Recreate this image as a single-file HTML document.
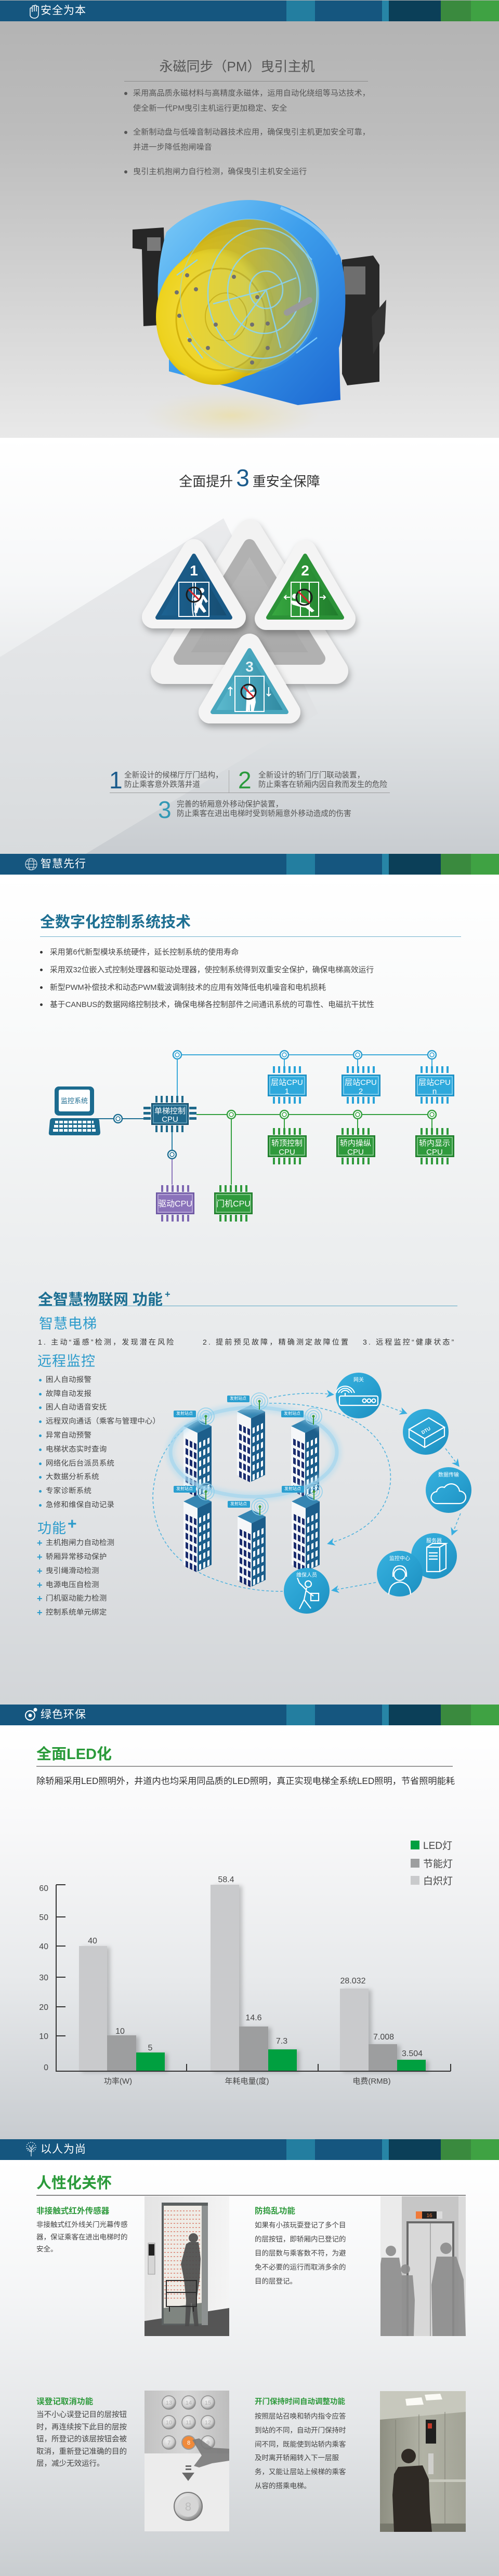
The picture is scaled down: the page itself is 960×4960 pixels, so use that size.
<!DOCTYPE html>
<html lang="zh"><head><meta charset="utf-8"><title>电梯产品介绍</title>
<style>
*{margin:0;padding:0;box-sizing:border-box}
html,body{width:960px;height:4960px}
body{position:relative;overflow:hidden;background:#fff;font-family:"Liberation Sans","Noto Sans CJK SC",sans-serif;color:#444}
.a{position:absolute}
.t{position:absolute;white-space:nowrap}
.bar{position:absolute;left:0;width:960px;height:40px;background:#15567f;overflow:hidden}
.bar i{position:absolute;top:0;height:40px;display:block}
.bar .bt{position:absolute;left:78px;top:0;line-height:40px;font-size:21px;color:#fff;letter-spacing:1px}
.bar svg{position:absolute;left:44px;top:6px}
.dot{position:absolute;width:6px;height:6px;border-radius:50%;background:#555}
.bd{position:absolute;width:5px;height:5px;border-radius:50%;background:#2b9bcb}
.li{position:absolute;white-space:nowrap;font-size:14.4px;line-height:20px;color:#444;letter-spacing:.3px}
.pl{position:absolute;left:71px;font-size:18px;line-height:20px;color:#2b9bcb;font-weight:700}
.gh{position:absolute;white-space:nowrap;font-size:15.6px;line-height:22px;color:#2e9a3c;font-weight:700}
.gp{position:absolute;white-space:nowrap;font-size:13.5px;color:#444}
</style></head><body>

<!-- ============ backgrounds ============ -->
<div class="a" style="left:0;top:0;width:960px;height:843px;background:linear-gradient(#b2b2b2 0%,#bcbcbc 30%,#cfcfcf 60%,#dfdfdf 85%,#e9e9e9 100%)"></div>
<div class="a" style="left:0;top:843px;width:960px;height:801px;background:linear-gradient(#fff 0%,#f6f7f8 35%,#dfe2e4 70%,#c8ccd0 100%)"></div>
<div class="a" style="left:0;top:1684px;width:960px;height:1598px;background:linear-gradient(#fff 0%,#f8f9f9 20%,#eceeef 45%,#e2e4e6 75%,#d2d5d8 100%)"></div>
<div class="a" style="left:0;top:3321px;width:960px;height:798px;background:linear-gradient(#fff 0%,#f8f8f9 25%,#e7e9eb 62%,#c8ccd0 100%)"></div>
<div class="a" style="left:0;top:4159px;width:960px;height:801px;background:linear-gradient(#fff 0%,#f5f6f7 30%,#e4e6e8 65%,#c9cdd0 100%)"></div>

<!-- ============ BAR 1 ============ -->
<div class="bar" style="top:1px">
 <i style="left:551px;width:55px;background:#237ea0"></i>
 <i style="left:735px;width:13px;background:#2785a6"></i>
 <i style="left:748px;width:100px;background:#0b3f58"></i>
 <i style="left:848px;width:58px;background:#3a8a3e"></i>
 <i style="left:906px;width:54px;background:#3fa243"></i>
 <svg width="30" height="30" viewBox="0 0 30 30" style="left:50px;top:7px"><path d="M8,22 L8,9 Q8,7 10,7 Q12,7 12,9 L12,5 Q12,3 14,3 Q16,3 16,5 L16,4 Q16,2 18,2 Q20,2 20,4 L20,6 Q20,4 22,4 Q24,4 24,6 L24,19 Q24,26 17,27 Q10,27 8,22 Z M12,9 L12,15 M16,5 L16,14 M20,6 L20,14" fill="none" stroke="#fff" stroke-width="1.5"/></svg>
 <div class="bt">安全为本</div>
</div>

<!-- ============ SECTION 1 ============ -->
<div class="t" style="left:0;width:912px;text-align:center;top:111px;font-size:26px;line-height:34px;color:#555">永磁同步（PM）曳引主机</div>
<div class="a" style="left:239px;top:156px;width:469px;height:1px;background:#8a8a8a"></div>
<div class="dot" style="left:239px;top:177px"></div>
<div class="dot" style="left:239px;top:252px"></div>
<div class="dot" style="left:239px;top:328px"></div>
<div class="t" style="left:256px;top:166px;font-size:15px;line-height:28.5px;color:#555;letter-spacing:.2px">采用高品质永磁材料与高精度永磁体，运用自动化绕组等马达技术，<br>使全新一代PM曳引主机运行更加稳定、安全</div>
<div class="t" style="left:256px;top:241px;font-size:15px;line-height:28.5px;color:#555;letter-spacing:.2px">全新制动盘与低噪音制动器技术应用，确保曳引主机更加安全可靠，<br>并进一步降低抱闸噪音</div>
<div class="t" style="left:256px;top:317px;font-size:15px;line-height:28.5px;color:#555;letter-spacing:.2px">曳引主机抱闸力自行检测，确保曳引主机安全运行</div>

<svg class="a" style="left:240px;top:380px" width="520" height="465" viewBox="0 0 520 465">
<defs>
<radialGradient id="refl" cx="50%" cy="50%" r="50%"><stop offset="0" stop-color="#eadfae" stop-opacity=".9"/><stop offset="1" stop-color="#e6e0c8" stop-opacity="0"/></radialGradient>
<linearGradient id="mblu" x1="0" y1="0" x2="1" y2="1"><stop offset="0" stop-color="#7fcdf8"/><stop offset=".45" stop-color="#3d9eec"/><stop offset="1" stop-color="#1c68d2"/></linearGradient>
<radialGradient id="myel" cx="45%" cy="48%" r="55%"><stop offset="0" stop-color="#f6e04c"/><stop offset=".8" stop-color="#edd21e"/><stop offset="1" stop-color="#d2b108"/></radialGradient>
<linearGradient id="ovl" x1="0" y1="0" x2="1" y2="0"><stop offset="0" stop-color="#4aa8f0" stop-opacity="0"/><stop offset=".45" stop-color="#4aa8f0" stop-opacity=".15"/><stop offset="1" stop-color="#3a98ea" stop-opacity=".55"/></linearGradient>
</defs>
<ellipse cx="205" cy="420" rx="170" ry="48" fill="url(#refl)"/>
<path d="M15,62 L75,58 L80,245 L36,248 L33,100 L15,98 Z" fill="#262626"/>
<rect x="43" y="77" width="26" height="26" fill="#7a7a7a"/>
<path d="M418,120 L478,112 L490,130 L490,355 L428,362 L418,340 Z" fill="#292929"/>
<rect x="421" y="133" width="42" height="54" fill="#6e6e6e"/>
<polygon points="475,230 503,197 500,262 478,302" fill="#333"/>
<path d="M80,67 C120,25 200,0 255,6 C330,12 390,60 415,115 C428,160 428,240 412,290 L415,390 L333,400 L85,335 L85,300 C60,240 55,150 80,67 Z" fill="url(#mblu)"/>
<path d="M300,20 C350,40 390,70 410,110" stroke="#a8e0ff" stroke-width="6" fill="none" opacity=".6"/>
<ellipse cx="240" cy="187" rx="133" ry="145" fill="#d1ae0a"/>
<ellipse cx="224" cy="198" rx="128" ry="141" fill="#d6b40c"/>
<ellipse cx="208" cy="209" rx="124" ry="138" fill="#dab80e"/>
<ellipse cx="191" cy="219" rx="119" ry="134" fill="#dcba10"/>
<ellipse cx="175" cy="230" rx="115" ry="131" fill="url(#myel)"/>
<ellipse cx="185" cy="235" rx="86" ry="98" fill="#efd52c" stroke="#d4b30c" stroke-width="3"/>
<ellipse cx="195" cy="230" rx="40" ry="46" fill="none" stroke="#d4b30c" stroke-width="2"/>
<ellipse cx="240" cy="190" rx="136" ry="148" fill="url(#ovl)"/>
<g fill="none" stroke="#86d4ff" stroke-width="2.5" opacity=".85">
<ellipse cx="265" cy="185" rx="105" ry="125"/>
<ellipse cx="268" cy="180" rx="70" ry="82"/>
<ellipse cx="272" cy="178" rx="32" ry="36"/>
<ellipse cx="240" cy="187" rx="133" ry="145" stroke-width="2" opacity=".6"/>
<path d="M272,178 L330,155 M272,178 L210,265 M272,178 L170,205 M272,178 L300,290 M150,310 L120,270 M100,150 L140,120 M320,80 L360,120 M330,300 L370,270"/>
</g>
<g fill="#707070"><circle cx="120" cy="150" r="4"/><circle cx="210" cy="153" r="4"/><circle cx="100" cy="183" r="4"/><circle cx="137" cy="177" r="4"/><circle cx="105" cy="228" r="4"/><circle cx="175" cy="245" r="4"/><circle cx="245" cy="245" r="4"/><circle cx="275" cy="243" r="4"/><circle cx="125" cy="275" r="4"/><circle cx="160" cy="290" r="4"/><circle cx="275" cy="290" r="4"/><circle cx="245" cy="318" r="4"/><circle cx="255" cy="192" r="4"/></g>
<line x1="312" y1="222" x2="355" y2="198" stroke="#9a9a9a" stroke-width="12" stroke-linecap="round"/>
</svg>

<!-- ============ SECTION 2 ============ -->
<svg class="a" style="left:0;top:843px" width="960" height="801">
<defs><linearGradient id="band" x1="0" y1="0" x2="0" y2="1"><stop offset="0" stop-color="#eaebed"/><stop offset="1" stop-color="#d8dbdd"/></linearGradient></defs>
<polygon points="0,422 430,155 612,531 165,801 0,801" fill="url(#band)"/>
</svg>
<div class="t" style="left:0;width:960px;text-align:center;top:893px;font-size:26px;line-height:54px;color:#333">全面提升<span style="font-size:46px;color:#1b5b8c;margin:0 6px">3</span>重安全保障</div>

<svg class="a" style="left:260px;top:980px;overflow:visible" width="440" height="420" font-family="'Liberation Sans','Noto Sans CJK SC',sans-serif">
<defs>
<filter id="sh" x="-30%" y="-30%" width="160%" height="170%"><feDropShadow dx="3" dy="7" stdDeviation="6" flood-color="#000" flood-opacity=".28"/></filter>
<linearGradient id="hole" x1="0" y1="0" x2="0" y2="1"><stop offset="0" stop-color="#bdbdbd"/><stop offset="1" stop-color="#a8a8a8"/></linearGradient>
<linearGradient id="tb" x1="0" y1="0" x2="1" y2="0"><stop offset="0" stop-color="#1d6494"/><stop offset="1" stop-color="#164c70"/></linearGradient>
<linearGradient id="tg" x1="0" y1="0" x2="1" y2="0"><stop offset="0" stop-color="#38aa41"/><stop offset="1" stop-color="#1f7a2b"/></linearGradient>
<linearGradient id="tt" x1="0" y1="0" x2="1" y2="0"><stop offset="0" stop-color="#5ebcd1"/><stop offset="1" stop-color="#2e879f"/></linearGradient>
</defs>
<g filter="url(#sh)"><polygon points="220,45 55,312 385,312" fill="#f2f2f2" stroke="#f2f2f2" stroke-width="50" stroke-linejoin="round"/></g>
<polygon points="220,70 86,288 354,288" fill="url(#hole)" stroke="#b1b1b1" stroke-width="24" stroke-linejoin="round"/>
<g filter="url(#sh)"><polygon points="113,80 35,208 191,208" fill="#f4f4f4" stroke="#f4f4f4" stroke-width="44" stroke-linejoin="round"/></g>
<polygon points="113,90 43,209 183,209" fill="url(#tb)" stroke="#1a5a86" stroke-width="8" stroke-linejoin="round"/>
<g filter="url(#sh)"><polygon points="327,82 252,211 402,211" fill="#f4f4f4" stroke="#f4f4f4" stroke-width="44" stroke-linejoin="round"/></g>
<polygon points="327,90 256,209 398,209" fill="url(#tg)" stroke="#2c9238" stroke-width="8" stroke-linejoin="round"/>
<g filter="url(#sh)"><polygon points="220,262 144,391 296,391" fill="#f4f4f4" stroke="#f4f4f4" stroke-width="44" stroke-linejoin="round"/></g>
<polygon points="220,272 149,391 291,391" fill="url(#tt)" stroke="#48a6bd" stroke-width="8" stroke-linejoin="round"/>
<g font-weight="700" font-size="28" fill="#fff" text-anchor="middle"><text x="113" y="128">1</text><text x="327" y="128">2</text><text x="220" y="313" fill="#e2f2f6">3</text></g>
<!-- icon 1 -->
<g stroke="#fff" stroke-width="2" fill="none"><rect x="84" y="141" width="58" height="66"/><path d="M111,141 V168 Q108,185 112,206 M116,141 V168 Q113,185 117,206"/></g>
<g fill="#fff"><circle cx="128" cy="157" r="5"/><path d="M118,165 L132,166 L140,178 L136,181 L131,173 L128,183 L137,197 L132,200 L123,189 L119,201 L113,199 L117,183 L112,173 Z"/></g>
<circle cx="113" cy="165" r="14" fill="none" stroke="#1a1a1a" stroke-width="3"/><line x1="103" y1="155" x2="123" y2="175" stroke="#d9232a" stroke-width="3"/>
<!-- icon 2 -->
<g stroke="#fff" stroke-width="2" fill="none"><rect x="300" y="141" width="53" height="66"/><path d="M318,141 V207 M335,141 V207 M298,170 H287 M291,166 L287,170 L291,174 M355,170 H366 M362,166 L366,170 L362,174"/></g>
<g fill="#fff"><circle cx="307" cy="168" r="5"/><path d="M300,176 L330,182 L345,196 L340,199 L328,190 L316,188 L302,184 Z"/></g>
<circle cx="325" cy="170" r="15" fill="none" stroke="#1a1a1a" stroke-width="3"/><line x1="314" y1="159" x2="336" y2="181" stroke="#d9232a" stroke-width="3"/>
<!-- icon 3 -->
<g stroke="#fff" stroke-width="2" fill="none"><rect x="192" y="322" width="56" height="68"/><path d="M220,322 V390 M183,360 V343 M179,347 L183,343 L187,347 M257,343 V360 M253,356 L257,360 L261,356"/></g>
<g fill="#fff"><circle cx="222" cy="345" r="5"/><path d="M214,352 L230,352 L232,372 L228,390 L223,390 L222,375 L218,390 L213,390 L214,370 Z"/></g>
<circle cx="218" cy="352" r="14" fill="none" stroke="#1a1a1a" stroke-width="3"/><line x1="208" y1="342" x2="228" y2="362" stroke="#d9232a" stroke-width="3"/>
</svg>

<div class="t" style="left:210px;top:1476px;font-size:46px;line-height:52px;color:#1b5b8c">1</div>
<div class="t" style="left:239px;top:1484px;font-size:14.6px;line-height:18px;color:#555">全新设计的候梯厅厅门结构，<br>防止乘客意外跌落井道</div>
<div class="a" style="left:440px;top:1483px;width:1px;height:43px;background:#aaa"></div>
<div class="t" style="left:458px;top:1476px;font-size:46px;line-height:52px;color:#2a9a3c">2</div>
<div class="t" style="left:497px;top:1484px;font-size:14.6px;line-height:18px;color:#555">全新设计的轿门厅门联动装置，<br>防止乘客在轿厢内因自救而发生的危险</div>
<div class="a" style="left:211px;top:1526px;width:539px;height:1px;background:#9a9a9a"></div>
<div class="t" style="left:304px;top:1533px;font-size:46px;line-height:52px;color:#3399b5">3</div>
<div class="t" style="left:340px;top:1540px;font-size:14.6px;line-height:18px;color:#555">完善的轿厢意外移动保护装置，<br>防止乘客在进出电梯时受到轿厢意外移动造成的伤害</div>

<!-- ============ BAR 2 ============ -->
<div class="bar" style="top:1644px">
 <i style="left:551px;width:55px;background:#237ea0"></i>
 <i style="left:735px;width:13px;background:#2785a6"></i>
 <i style="left:748px;width:100px;background:#0b3f58"></i>
 <i style="left:848px;width:58px;background:#3a8a3e"></i>
 <i style="left:906px;width:54px;background:#3fa243"></i>
 <svg width="26" height="26" viewBox="0 0 26 26" style="left:47px;top:7px"><g fill="none" stroke="#c9d6df" stroke-width="1.3"><circle cx="13" cy="13" r="11"/><ellipse cx="13" cy="13" rx="5" ry="11"/><path d="M2,13 H24 M4,7 H22 M4,19 H22"/></g></svg>
 <div class="bt">智慧先行</div>
</div>

<!-- ============ SECTION 3 ============ -->
<div class="t" style="left:77px;top:1758px;font-size:29px;line-height:36px;color:#1d6f92;font-weight:700">全数字化控制系统技术</div>
<div class="a" style="left:77px;top:1803px;width:810px;height:1px;background:#6fb0cc"></div>
<div class="dot" style="left:77px;top:1831px;width:5px;height:5px;background:#333"></div>
<div class="dot" style="left:77px;top:1865px;width:5px;height:5px;background:#333"></div>
<div class="dot" style="left:77px;top:1899px;width:5px;height:5px;background:#333"></div>
<div class="dot" style="left:77px;top:1932px;width:5px;height:5px;background:#333"></div>
<div class="t" style="left:96px;top:1824px;font-size:14.8px;line-height:20px;color:#444">采用第6代新型模块系统硬件，延长控制系统的使用寿命</div>
<div class="t" style="left:96px;top:1858px;font-size:14.8px;line-height:20px;color:#444">采用双32位嵌入式控制处理器和驱动处理器，使控制系统得到双重安全保护，确保电梯高效运行</div>
<div class="t" style="left:96px;top:1892px;font-size:14.8px;line-height:20px;color:#444">新型PWM补偿技术和动态PWM载波调制技术的应用有效降低电机噪音和电机损耗</div>
<div class="t" style="left:96px;top:1925px;font-size:14.8px;line-height:20px;color:#444">基于CANBUS的数据网络控制技术，确保电梯各控制部件之间通讯系统的可靠性、电磁抗干扰性</div>

<svg class="a" style="left:0;top:1990px" width="960" height="380" font-family="'Liberation Sans','Noto Sans CJK SC',sans-serif">
<defs>
<g id="pins"><rect x="9" y="0" width="4" height="13"/><rect x="19" y="0" width="4" height="13"/><rect x="29" y="0" width="4" height="13"/><rect x="39" y="0" width="4" height="13"/><rect x="49" y="0" width="4" height="13"/><rect x="59" y="0" width="4" height="13"/></g>
</defs>
<g fill="none" stroke-width="2">
<path d="M341,41 H831 M341,41 V120 M547,41 V63 M688,41 V63 M831,41 V63" stroke="#3aa9d9"/>
<path d="M378,156 H831 M445,156 V291 M547,156 V182 M688,156 V182 M831,156 V182" stroke="#35a040"/>
<path d="M184,164 H276" stroke="#1f6f93"/>
<path d="M331,190 V225" stroke="#2a7fa5"/>
<path d="M331,241 V291" stroke="#8b74bb"/>
</g>
<g fill="#fff" stroke-width="2.5">
<g stroke="#2f9fcf"><circle cx="341" cy="41" r="8"/><circle cx="547" cy="41" r="8"/><circle cx="688" cy="41" r="8"/><circle cx="831" cy="41" r="8"/></g>
<g stroke="#35a040"><circle cx="445" cy="156" r="8"/><circle cx="547" cy="156" r="8"/><circle cx="688" cy="156" r="8"/><circle cx="831" cy="156" r="8"/></g>
<g stroke="#1f6f93"><circle cx="227" cy="164" r="8"/><circle cx="331" cy="233" r="8"/></g>
</g>
<g fill="none" stroke-width="1.5">
<g stroke="#2f9fcf"><circle cx="341" cy="41" r="4"/><circle cx="547" cy="41" r="4"/><circle cx="688" cy="41" r="4"/><circle cx="831" cy="41" r="4"/></g>
<g stroke="#35a040"><circle cx="445" cy="156" r="4"/><circle cx="547" cy="156" r="4"/><circle cx="688" cy="156" r="4"/><circle cx="831" cy="156" r="4"/></g>
<g stroke="#1f6f93"><circle cx="227" cy="164" r="4"/><circle cx="331" cy="233" r="4"/></g>
</g>
<rect x="105" y="102" width="76" height="56" rx="8" fill="#1b6b8f"/>
<rect x="113" y="108" width="60" height="42" rx="3" fill="#fff"/>
<text x="143" y="134" font-size="13" fill="#1b6b8f" text-anchor="middle">监控系统</text>
<path d="M101,163 H186 Q190,163 191,168 L193,190 Q193,196 188,196 H98 Q93,196 94,190 L96,168 Q97,163 101,163 Z" fill="#1b6b8f"/>
<g fill="#fff"><rect x="106" y="168" width="74" height="5"/><rect x="104" y="176" width="78" height="5"/><rect x="102" y="184" width="82" height="5"/></g>
<g stroke="#1b6b8f" stroke-width="2"><path d="M113,168 V190 M122,168 V190 M131,168 V190 M140,168 V190 M149,168 V190 M158,168 V190 M167,168 V190 M176,168 V190"/></g>
<use href="#pins" x="290" y="120" style="fill:#1f6a8c"/>
<use href="#pins" x="290" y="177" style="fill:#1f6a8c"/>
<g fill="#1f6a8c"><rect x="276" y="141" width="14" height="5"/><rect x="276" y="151" width="14" height="5"/><rect x="276" y="161" width="14" height="5"/><rect x="364" y="141" width="14" height="5"/><rect x="364" y="151" width="14" height="5"/><rect x="364" y="161" width="14" height="5"/></g>
<rect x="292" y="135" width="70" height="40" fill="#21698c" stroke="#154e6b" stroke-width="2"/>
<rect x="295" y="138" width="64" height="34" fill="none" stroke="#8fc3da" stroke-width="1"/>
<g fill="#fff" font-size="15" text-anchor="middle"><text x="327" y="154">单梯控制</text><text x="327" y="170">CPU</text></g>
<g style="fill:#28a3d8">
<use href="#pins" x="516" y="63"/><use href="#pins" x="516" y="122"/>
<use href="#pins" x="658" y="63"/><use href="#pins" x="658" y="122"/>
<use href="#pins" x="800" y="63"/><use href="#pins" x="800" y="122"/>
</g>
<g fill="#2ea9dc" stroke="#1b8dc2" stroke-width="2"><rect x="516" y="80" width="73" height="40"/><rect x="658" y="80" width="73" height="40"/><rect x="800" y="80" width="73" height="40"/></g>
<g fill="none" stroke="#c2e8f7" stroke-width="1"><rect x="519" y="83" width="67" height="34"/><rect x="661" y="83" width="67" height="34"/><rect x="803" y="83" width="67" height="34"/></g>
<g fill="#fff" font-size="15" text-anchor="middle"><text x="552" y="99">层站CPU</text><text x="552" y="116">1</text><text x="694" y="99">层站CPU</text><text x="694" y="116">2</text><text x="836" y="99">层站CPU</text><text x="836" y="116">n</text></g>
<g style="fill:#2f9a3c">
<use href="#pins" x="516" y="182"/><use href="#pins" x="516" y="239"/>
<use href="#pins" x="648" y="182"/><use href="#pins" x="648" y="239"/>
<use href="#pins" x="800" y="182"/><use href="#pins" x="800" y="239"/>
<use href="#pins" x="413" y="292"/><use href="#pins" x="413" y="349"/>
</g>
<g fill="#2f9a3c" stroke="#1f7a2a" stroke-width="2"><rect x="516" y="197" width="73" height="40"/><rect x="648" y="197" width="73" height="40"/><rect x="800" y="197" width="73" height="40"/><rect x="413" y="307" width="72" height="40"/></g>
<g fill="none" stroke="#bfe4c2" stroke-width="1"><rect x="519" y="200" width="67" height="34"/><rect x="651" y="200" width="67" height="34"/><rect x="803" y="200" width="67" height="34"/><rect x="416" y="310" width="66" height="34"/></g>
<g fill="#fff" font-size="15" text-anchor="middle"><text x="552" y="216">轿顶控制</text><text x="552" y="233">CPU</text><text x="684" y="216">轿内操纵</text><text x="684" y="233">CPU</text><text x="836" y="216">轿内显示</text><text x="836" y="233">CPU</text><text x="449" y="333" font-size="16">门机CPU</text></g>
<g style="fill:#7e67b2"><use href="#pins" x="301" y="292"/><use href="#pins" x="301" y="349"/></g>
<rect x="301" y="307" width="72" height="40" fill="#8a72ba" stroke="#6a55a0" stroke-width="2"/>
<rect x="304" y="310" width="66" height="34" fill="none" stroke="#d6ccec" stroke-width="1"/>
<text x="337" y="333" font-size="16" fill="#fff" text-anchor="middle">驱动CPU</text>
</svg>

<!-- IoT -->
<div class="t" style="left:73px;top:2474px;font-size:29px;line-height:36px;color:#1d6f92;font-weight:700">全智慧物联网 功能<span style="font-size:18px;vertical-align:14px;margin-left:4px">+</span></div>
<div class="a" style="left:73px;top:2514px;width:807px;height:1px;background:#5aa6c6"></div>
<div class="t" style="left:75px;top:2532px;font-size:27px;line-height:34px;color:#2b9bcb;letter-spacing:1px">智慧电梯</div>
<div class="t" style="left:73px;top:2574px;font-size:14px;line-height:20px;color:#333;letter-spacing:3.2px">1. 主动“遥感”检测，发现潜在风险</div>
<div class="t" style="left:390px;top:2574px;font-size:14px;line-height:20px;color:#333;letter-spacing:3.2px">2. 提前预见故障，精确测定故障位置</div>
<div class="t" style="left:698px;top:2574px;font-size:14px;line-height:20px;color:#333;letter-spacing:3.2px">3. 远程监控“健康状态”</div>
<div class="t" style="left:72px;top:2604px;font-size:27px;line-height:34px;color:#2b9bcb;letter-spacing:1px">远程监控</div>

<div class="bd" style="left:75px;top:2655px"></div><div class="li" style="left:88px;top:2647px">困人自动报警</div>
<div class="bd" style="left:75px;top:2682px"></div><div class="li" style="left:88px;top:2674px">故障自动发报</div>
<div class="bd" style="left:75px;top:2708px"></div><div class="li" style="left:88px;top:2700px">困人自动语音安抚</div>
<div class="bd" style="left:75px;top:2735px"></div><div class="li" style="left:88px;top:2727px">远程双向通话（乘客与管理中心）</div>
<div class="bd" style="left:75px;top:2762px"></div><div class="li" style="left:88px;top:2754px">异常自动预警</div>
<div class="bd" style="left:75px;top:2789px"></div><div class="li" style="left:88px;top:2781px">电梯状态实时查询</div>
<div class="bd" style="left:75px;top:2816px"></div><div class="li" style="left:88px;top:2808px">网络化后台派员系统</div>
<div class="bd" style="left:75px;top:2842px"></div><div class="li" style="left:88px;top:2834px">大数据分析系统</div>
<div class="bd" style="left:75px;top:2869px"></div><div class="li" style="left:88px;top:2861px">专家诊断系统</div>
<div class="bd" style="left:75px;top:2896px"></div><div class="li" style="left:88px;top:2888px">急修和维保自动记录</div>

<div class="t" style="left:72px;top:2918px;font-size:27px;line-height:34px;color:#2b9bcb;letter-spacing:1px">功能<span style="font-size:30px;font-weight:700;vertical-align:8px;margin-left:2px">+</span></div>
<div class="pl" style="top:2961px">+</div><div class="li" style="left:88px;top:2961px">主机抱闸力自动检测</div>
<div class="pl" style="top:2988px">+</div><div class="li" style="left:88px;top:2988px">轿厢异常移动保护</div>
<div class="pl" style="top:3015px">+</div><div class="li" style="left:88px;top:3015px">曳引绳滑动检测</div>
<div class="pl" style="top:3042px">+</div><div class="li" style="left:88px;top:3042px">电源电压自检测</div>
<div class="pl" style="top:3068px">+</div><div class="li" style="left:88px;top:3068px">门机驱动能力检测</div>
<div class="pl" style="top:3095px">+</div><div class="li" style="left:88px;top:3095px">控制系统单元绑定</div>

<svg class="a" style="left:280px;top:2640px" width="680" height="480" viewBox="0 0 680 480" font-family="'Liberation Sans','Noto Sans CJK SC',sans-serif">
<defs>
<marker id="ar" viewBox="0 0 10 10" refX="8" refY="5" markerUnits="userSpaceOnUse" markerWidth="15" markerHeight="15" orient="auto"><path d="M0,0 L10,5 L0,10 L3,5 z" fill="#3aaee0"/></marker>
<linearGradient id="cg" x1="0" y1="0" x2="1" y2="1"><stop offset="0" stop-color="#38b1df"/><stop offset=".55" stop-color="#28a0d0"/><stop offset="1" stop-color="#1c8ebf"/></linearGradient>
<filter id="gl" x="-20%" y="-30%" width="140%" height="160%"><feGaussianBlur stdDeviation="4"/></filter>
<g id="bld">
<polygon points="0,0 27,13 0,26 -27,13" fill="#3585b2"/>
<polygon points="-27,13 0,26 0,148 -27,135" fill="#f5f7f9"/>
<polygon points="0,26 27,13 27,135 0,148" fill="#1c5e8b"/>
<g transform="matrix(1,0.4815,0,1,-27,13)" fill="#1b2d6e">
<rect x="4" y="22" width="5" height="12"/><rect x="12" y="22" width="5" height="12"/><rect x="20" y="22" width="5" height="12"/>
<rect x="4" y="40" width="5" height="12"/><rect x="12" y="40" width="5" height="12"/><rect x="20" y="40" width="5" height="12"/>
<rect x="4" y="58" width="5" height="12"/><rect x="12" y="58" width="5" height="12"/><rect x="20" y="58" width="5" height="12"/>
<rect x="4" y="76" width="5" height="12"/><rect x="12" y="76" width="5" height="12"/><rect x="20" y="76" width="5" height="12"/>
<rect x="4" y="94" width="5" height="12"/><rect x="12" y="94" width="5" height="12"/><rect x="20" y="94" width="5" height="12"/>
<rect x="4" y="112" width="5" height="12"/><rect x="12" y="112" width="5" height="12"/><rect x="20" y="112" width="5" height="12"/>
</g>
<g transform="matrix(1,-0.4815,0,1,0,26)" fill="#fff">
<rect x="3" y="20" width="4" height="11"/><rect x="11" y="20" width="4" height="11"/><rect x="19" y="20" width="4" height="11"/>
<rect x="3" y="38" width="4" height="11"/><rect x="11" y="38" width="4" height="11"/><rect x="19" y="38" width="4" height="11"/>
<rect x="3" y="56" width="4" height="11"/><rect x="11" y="56" width="4" height="11"/><rect x="19" y="56" width="4" height="11"/>
<rect x="3" y="74" width="4" height="11"/><rect x="11" y="74" width="4" height="11"/><rect x="19" y="74" width="4" height="11"/>
<rect x="3" y="92" width="4" height="11"/><rect x="11" y="92" width="4" height="11"/><rect x="19" y="92" width="4" height="11"/>
<rect x="3" y="110" width="4" height="11"/><rect x="11" y="110" width="4" height="11"/><rect x="19" y="110" width="4" height="11"/>
</g>
</g>
<g id="ant">
<g fill="none" stroke="#8fd0ec" stroke-width="1.5"><circle cx="0" cy="0" r="6"/><circle cx="0" cy="0" r="11"/><circle cx="0" cy="0" r="16"/></g>
<line x1="0" y1="0" x2="0" y2="16" stroke="#3a9a3a" stroke-width="2"/><circle cx="0" cy="0" r="2.5" fill="#3a9a3a"/>
<rect x="-62" y="-11" width="43" height="13" rx="2" fill="#2a9fd0"/>
</g>
</defs>
<g fill="none" stroke="#4fb3de" stroke-width="1.6" stroke-dasharray="5 4">
<path d="M117,86 Q20,130 14,240 Q15,350 120,396 Q190,425 264,424"/>
<path d="M238,52 Q300,38 360,45" marker-end="url(#ar)"/>
<path d="M238,62 C400,60 478,130 471,215 Q462,300 352,332" marker-end="url(#ar)"/>
<path d="M455,64 L501,81" marker-end="url(#ar)"/>
<path d="M577,149 L602,182" marker-end="url(#ar)"/>
<path d="M606,274 L590,314" marker-end="url(#ar)"/>
<path d="M443,407 L360,422" marker-end="url(#ar)"/>
</g>
<use href="#bld" x="203" y="65"/>
<use href="#bld" x="100" y="93"/>
<use href="#bld" x="307" y="93"/>
<use href="#bld" x="100" y="238"/>
<use href="#bld" x="308" y="238"/>
<use href="#bld" x="204" y="267"/>
<ellipse cx="208" cy="156" rx="160" ry="86" fill="none" stroke="#a9daf0" stroke-width="18" opacity=".45" filter="url(#gl)"/>
<ellipse cx="208" cy="156" rx="160" ry="86" fill="none" stroke="#9fd4ee" stroke-width="7" opacity=".6"/>
<use href="#ant" x="219" y="58"/>
<use href="#ant" x="116" y="87"/>
<use href="#ant" x="323" y="87"/>
<use href="#ant" x="116" y="232"/>
<use href="#ant" x="324" y="232"/>
<use href="#ant" x="220" y="261"/>
<g font-size="8" fill="#fff" text-anchor="middle">
<text x="178" y="55">发射站点</text><text x="75" y="84">发射站点</text><text x="282" y="84">发射站点</text>
<text x="75" y="229">发射站点</text><text x="283" y="229">发射站点</text><text x="179" y="258">发射站点</text>
</g>
<circle cx="555" cy="356" r="44" fill="url(#cg)"/>
<circle cx="489" cy="390" r="44" fill="url(#cg)"/>
<circle cx="410" cy="47" r="44" fill="url(#cg)"/>
<circle cx="539" cy="117" r="44" fill="url(#cg)"/>
<circle cx="583" cy="229" r="44" fill="url(#cg)"/>
<circle cx="310" cy="423" r="44" fill="url(#cg)"/>
<g font-size="10" fill="#fff" text-anchor="middle">
<text x="410" y="20">网关</text><text x="583" y="203">数据传输</text><text x="555" y="330">服务器</text><text x="489" y="364">监控中心</text><text x="310" y="396">维保人员</text>
</g>
<g fill="none" stroke="#fff" stroke-width="2.2">
<rect x="373" y="48" width="74" height="18" rx="3"/><circle cx="421" cy="57" r="3.5"/><circle cx="430" cy="57" r="3.5"/><circle cx="439" cy="57" r="3.5"/>
<path d="M376,42 A9,9 0 0 1 392,42 M371,42 A14,14 0 0 1 397,42 M366,42 A19,19 0 0 1 402,42"/><line x1="384" y1="42" x2="384" y2="48"/>
<path d="M507,112 L545,90 L575,108 L537,130 Z M507,112 V128 L537,147 L575,125 V108 M537,130 V147"/>
<path d="M562,255 H604 A12,12 0 0 0 604,231 A16,16 0 0 0 575,224 A11,11 0 0 0 560,232 A11.5,11.5 0 0 0 562,255 Z"/>
<path d="M541,339 H566 V386 H541 Z M541,339 L552,332 H578 L566,339 M578,332 V380 L566,386 M545,350 H562 M545,356 H562 M545,362 H562"/>
<circle cx="489" cy="392" r="11"/><path d="M468,430 Q469,408 489,406 Q509,408 510,430 M476,390 Q477,375 489,375 Q501,375 502,390 M476,388 V396 M502,388 V396"/>
<circle cx="313" cy="410" r="6"/><path d="M310,417 L305,440 L296,458 M305,440 L318,457 M309,421 L296,408 L292,398 M309,423 L323,433 M318,428 H333 V442 H318 Z"/>
</g>
<text x="541" y="117" font-size="9" font-weight="700" fill="#fff" text-anchor="middle" transform="rotate(-30 541 117)">DTU</text>
</svg>

<!-- ============ BAR 3 ============ -->
<div class="bar" style="top:3282px">
 <i style="left:551px;width:55px;background:#237ea0"></i>
 <i style="left:735px;width:13px;background:#2785a6"></i>
 <i style="left:748px;width:100px;background:#0b3f58"></i>
 <i style="left:848px;width:58px;background:#3a8a3e"></i>
 <i style="left:906px;width:54px;background:#3fa243"></i>
 <svg width="28" height="28" viewBox="0 0 28 28" style="left:46px;top:5px"><circle cx="12" cy="16" r="9" fill="none" stroke="#fff" stroke-width="2"/><circle cx="12" cy="16" r="3.5" fill="#fff"/><circle cx="22" cy="5" r="3.5" fill="#fff"/></svg>
 <div class="bt">绿色环保</div>
</div>

<!-- ============ SECTION 4 ============ -->
<div class="t" style="left:70px;top:3360px;font-size:29px;line-height:36px;color:#2a9a3a;font-weight:700">全面LED化</div>
<div class="a" style="left:70px;top:3400px;width:801px;height:2px;background:#999"></div>
<div class="t" style="left:70px;top:3417px;font-size:17.2px;line-height:24px;color:#333">除轿厢采用LED照明外，井道内也均采用同品质的LED照明，真正实现电梯全系统LED照明，节省照明能耗</div>

<svg class="a" style="left:0;top:3520px" width="960" height="520" font-family="'Liberation Sans','Noto Sans CJK SC',sans-serif">
<defs><filter id="bs" x="-20%" y="-10%" width="160%" height="130%"><feDropShadow dx="6" dy="2" stdDeviation="4" flood-opacity=".2"/></filter></defs>
<g filter="url(#bs)">
<rect x="152" y="227" width="54" height="241" fill="#c9cacc"/><rect x="206" y="399" width="56" height="69" fill="#9d9e9f"/><rect x="262" y="432" width="55" height="36" fill="#00a040"/>
<rect x="405" y="109" width="55" height="359" fill="#c9cacc"/><rect x="460" y="382" width="56" height="86" fill="#9d9e9f"/><rect x="516" y="426" width="55" height="42" fill="#00a040"/>
<rect x="654" y="309" width="55" height="159" fill="#c9cacc"/><rect x="709" y="416" width="55" height="52" fill="#9d9e9f"/><rect x="764" y="446" width="55" height="22" fill="#00a040"/>
</g>
<path d="M108,109 V468 H867 M108,109 H126 M108,171 H126 M108,227 H126 M108,287 H126 M108,344 H126 M108,400 H126 M359,454 V468 M612,454 V468 M867,454 V468" stroke="#333" stroke-width="2" fill="none"/>
<g font-size="16" fill="#444" text-anchor="end">
<text x="93" y="121">60</text><text x="93" y="177">50</text><text x="93" y="233">40</text><text x="93" y="293">30</text><text x="93" y="350">20</text><text x="93" y="406">10</text><text x="93" y="466">0</text>
</g>
<g font-size="16" fill="#444" text-anchor="middle">
<text x="178" y="222">40</text><text x="231" y="396">10</text><text x="289" y="428">5</text>
<text x="435" y="104">58.4</text><text x="488" y="370">14.6</text><text x="542" y="415">7.3</text>
<text x="679" y="299">28.032</text><text x="738" y="407">7.008</text><text x="793" y="439">3.504</text>
</g>
<g font-size="15" fill="#444" text-anchor="middle"><text x="227" y="492">功率(W)</text><text x="475" y="492">年耗电量(度)</text><text x="715" y="492">电费(RMB)</text></g>
<rect x="790" y="24" width="17" height="17" fill="#00a040"/><rect x="790" y="59" width="17" height="17" fill="#9d9e9f"/><rect x="790" y="92" width="17" height="17" fill="#c9cacc"/>
<g font-size="19" fill="#444"><text x="814" y="40">LED灯</text><text x="814" y="75">节能灯</text><text x="814" y="108">白炽灯</text></g>
</svg>

<!-- ============ BAR 4 ============ -->
<div class="bar" style="top:4119px">
 <i style="left:551px;width:55px;background:#237ea0"></i>
 <i style="left:735px;width:13px;background:#2785a6"></i>
 <i style="left:748px;width:100px;background:#0b3f58"></i>
 <i style="left:848px;width:58px;background:#3a8a3e"></i>
 <i style="left:906px;width:54px;background:#3fa243"></i>
 <svg width="28" height="30" viewBox="0 0 28 30" style="left:46px;top:4px"><g fill="none" stroke="#d5e3ec" stroke-width="1.4"><path d="M14,29 V14 M14,20 L7,13 M14,18 L21,11 M14,15 L10,8 M14,14 L18,7"/><circle cx="14" cy="11" r="9" stroke-dasharray="2 2"/></g></svg>
 <div class="bt">以人为尚</div>
</div>

<!-- ============ SECTION 5 ============ -->
<div class="t" style="left:70px;top:4186px;font-size:29px;line-height:36px;color:#2a9a3a;font-weight:700">人性化关怀</div>
<div class="a" style="left:70px;top:4226px;width:826px;height:1.5px;background:#888"></div>

<div class="gh" style="left:70px;top:4247px">非接触式红外传感器</div>
<div class="gp" style="left:70px;top:4272px;line-height:23.5px">非接触式红外线关门光幕传感<br>器，保证乘客在进出电梯时的<br>安全。</div>
<div class="gh" style="left:490px;top:4247px">防捣乱功能</div>
<div class="gp" style="left:490px;top:4271px;line-height:27px">如果有小孩玩耍登记了多个目<br>的层按钮，即轿厢内已登记的<br>目的层数与乘客数不符，为避<br>免不必要的运行而取消多余的<br>目的层登记。</div>
<div class="gh" style="left:70px;top:4614px">误登记取消功能</div>
<div class="gp" style="left:70px;top:4639px;line-height:23.5px;font-size:14.5px">当不小心误登记目的层按钮<br>时，再连续按下此目的层按<br>钮，所登记的该层按钮会被<br>取消，重新登记准确的目的<br>层，减少无效运行。</div>
<div class="gh" style="left:490px;top:4614px;font-size:14.5px">开门保持时间自动调整功能</div>
<div class="gp" style="left:490px;top:4640px;line-height:26.8px">按照层站召唤和轿内指令应答<br>到站的不同，自动开门保持时<br>间不同，既能使到站轿内乘客<br>及时离开轿厢转入下一层服<br>务，又能让层站上候梯的乘客<br>从容的搭乘电梯。</div>

<!-- image 1 -->
<svg class="a" style="left:278px;top:4229px" width="163" height="269" viewBox="0 0 163 269">
<defs><linearGradient id="w1" x1="0" y1="0" x2="1" y2="0"><stop offset="0" stop-color="#e4e4e4"/><stop offset="1" stop-color="#f4f4f4"/></linearGradient></defs>
<rect width="163" height="269" fill="url(#w1)"/>
<polygon points="0,240 163,215 163,269 0,269" fill="#555"/>
<rect x="33" y="12" width="89" height="236" fill="#5b6060"/>
<rect x="37" y="18" width="73" height="227" fill="#efece6"/>
<rect x="110" y="18" width="12" height="230" fill="#8d9191"/>
<g stroke="#d2503d" stroke-width="1.5" stroke-dasharray="3 3" opacity=".7">
<path d="M38,28 H109 M38,36 H109 M38,44 H109 M38,52 H109 M38,60 H109 M38,68 H109 M38,76 H109 M38,84 H109 M38,92 H109 M38,100 H109 M38,108 H109 M38,116 H109 M38,124 H109 M38,132 H109 M38,140 H109 M38,148 H109 M38,156 H109 M38,164 H109 M38,172 H109 M38,180 H109 M38,188 H109 M38,196 H109"/>
</g>
<polygon points="37,215 110,205 110,245 37,245" fill="#7f8580"/>
<rect x="7" y="90" width="13" height="60" fill="#d6d6d6" stroke="#999" stroke-width="1"/><rect x="8" y="92" width="11" height="22" fill="#222"/>
<g fill="#4d4d4d" opacity=".92"><circle cx="94" cy="80" r="9"/><path d="M86,88 L104,88 L108,120 L106,160 L100,200 L104,250 L96,250 L90,205 L86,250 L78,250 L80,200 L76,160 L70,130 L80,92 Z"/></g>
<g stroke="#2a2a2a" stroke-width="2" fill="none"><rect x="42" y="162" width="58" height="50"/><path d="M42,185 H100 M48,212 V222 M94,212 V222"/></g>
</svg>

<!-- image 2 -->
<svg class="a" style="left:732px;top:4229px" width="164" height="269" viewBox="0 0 164 269">
<rect width="164" height="269" fill="#e3e3e3"/>
<rect x="0" y="0" width="41" height="269" fill="#ebebeb"/>
<rect x="41" y="0" width="109" height="269" fill="#c6c6c6"/>
<rect x="150" y="0" width="14" height="269" fill="#dadada"/>
<rect x="68" y="29" width="51" height="14" fill="#dcdcdc"/><rect x="68" y="29" width="12" height="14" fill="#f07a3a"/><rect x="80" y="29" width="28" height="14" fill="#222"/>
<text x="94" y="40" font-size="10" fill="#f07a3a" text-anchor="middle" font-family="'Liberation Sans',sans-serif">16</text>
<rect x="50" y="48" width="92" height="221" fill="#6a6a6a"/>
<rect x="54" y="52" width="84" height="217" fill="#d8d8d8"/>
<line x1="96" y1="52" x2="96" y2="269" stroke="#9a9a9a" stroke-width="1.5"/>
<g fill="#8c8c8c" opacity=".9">
<circle cx="20" cy="105" r="10"/><path d="M2,118 L36,118 L44,170 L46,269 L0,269 L0,130 Z"/>
<circle cx="48" cy="140" r="9"/><path d="M36,152 L62,152 L66,200 L64,269 L40,269 Z"/>
<circle cx="126" cy="100" r="11"/><path d="M108,116 L146,116 L160,160 L164,269 L100,269 L98,170 Z"/>
</g>
</svg>

<!-- image 3 -->
<svg class="a" style="left:278px;top:4603px" width="163" height="271" viewBox="0 0 163 271" font-family="'Liberation Sans',sans-serif">
<defs>
<linearGradient id="st" x1="0" y1="0" x2="1" y2="0"><stop offset="0" stop-color="#c2c2c2"/><stop offset=".5" stop-color="#d6d6d6"/><stop offset="1" stop-color="#bdbdbd"/></linearGradient>
<radialGradient id="btn" cx="40%" cy="35%" r="65%"><stop offset="0" stop-color="#f2f2f2"/><stop offset=".7" stop-color="#cfcfcf"/><stop offset="1" stop-color="#8a8a8a"/></radialGradient>
</defs>
<rect width="163" height="271" fill="#ececec"/>
<rect width="163" height="121" fill="url(#st)"/>
<g fill="url(#btn)" stroke="#8d8d8d" stroke-width="1.5">
<circle cx="47" cy="23" r="13"/><circle cx="85" cy="23" r="13"/><circle cx="122" cy="23" r="13"/>
<circle cx="47" cy="61" r="13"/><circle cx="85" cy="61" r="13"/><circle cx="122" cy="61" r="13"/>
<circle cx="47" cy="100" r="13"/><circle cx="122" cy="100" r="13"/>
</g>
<circle cx="85" cy="100" r="13" fill="#f08a3a" stroke="#9a9a9a" stroke-width="2"/>
<g font-size="11" fill="#b0b0b0" text-anchor="middle">
<text x="47" y="27">13</text><text x="85" y="27">14</text><text x="122" y="27">15</text>
<text x="47" y="65">10</text><text x="85" y="65">11</text><text x="122" y="65">12</text>
<text x="47" y="104">7</text><text x="122" y="104">9</text>
</g>
<text x="85" y="104" font-size="11" fill="#fff" text-anchor="middle">8</text>
<polygon points="92,95 105,92 130,110 163,112 163,135 130,140 105,148 95,145 110,125" fill="#7a7a7a" opacity=".9"/>
<g fill="#6a6a6a"><rect x="79" y="144" width="11" height="3"/><rect x="79" y="150" width="11" height="3"/><polygon points="72,158 96,158 84,174"/></g>
<circle cx="84" cy="223" r="27" fill="url(#btn)" stroke="#777" stroke-width="2"/>
<circle cx="84" cy="223" r="20" fill="#d6d6d6"/>
<text x="84" y="231" font-size="22" fill="#bcbcbc" text-anchor="middle">8</text>
</svg>

<!-- image 4 -->
<svg class="a" style="left:731px;top:4604px" width="165" height="271" viewBox="0 0 165 271">
<defs><linearGradient id="el" x1="0" y1="0" x2="1" y2="0"><stop offset="0" stop-color="#8e8f82"/><stop offset=".5" stop-color="#b1b2a5"/><stop offset="1" stop-color="#a3a497"/></linearGradient></defs>
<rect width="165" height="271" fill="url(#el)"/>
<polygon points="0,0 165,0 165,40 0,55" fill="#c7c8bd"/>
<polygon points="49,15 80,12 84,26 51,28" fill="#fbfbf6"/><polygon points="86,7 116,5 120,16 89,18" fill="#fbfbf6"/>
<g stroke="#7d7e72" stroke-width="1"><path d="M30,55 V271 M75,45 V271 M125,40 V271"/></g>
<rect x="88" y="55" width="20" height="46" fill="#1f1f1f"/><rect x="92" y="62" width="8" height="10" fill="#c43a2a"/>
<g fill="#ddd"><rect x="93" y="120" width="10" height="40" opacity=".7"/></g>
<rect x="94" y="170" width="71" height="5" fill="#c8c9be"/>
<rect x="0" y="255" width="165" height="16" fill="#77786c"/>
<g fill="#2f2a25"><circle cx="55" cy="125" r="14"/><path d="M35,146 L82,143 L94,170 L96,230 L100,271 L27,271 L24,200 L27,160 Z"/></g>
</svg>

</body></html>
